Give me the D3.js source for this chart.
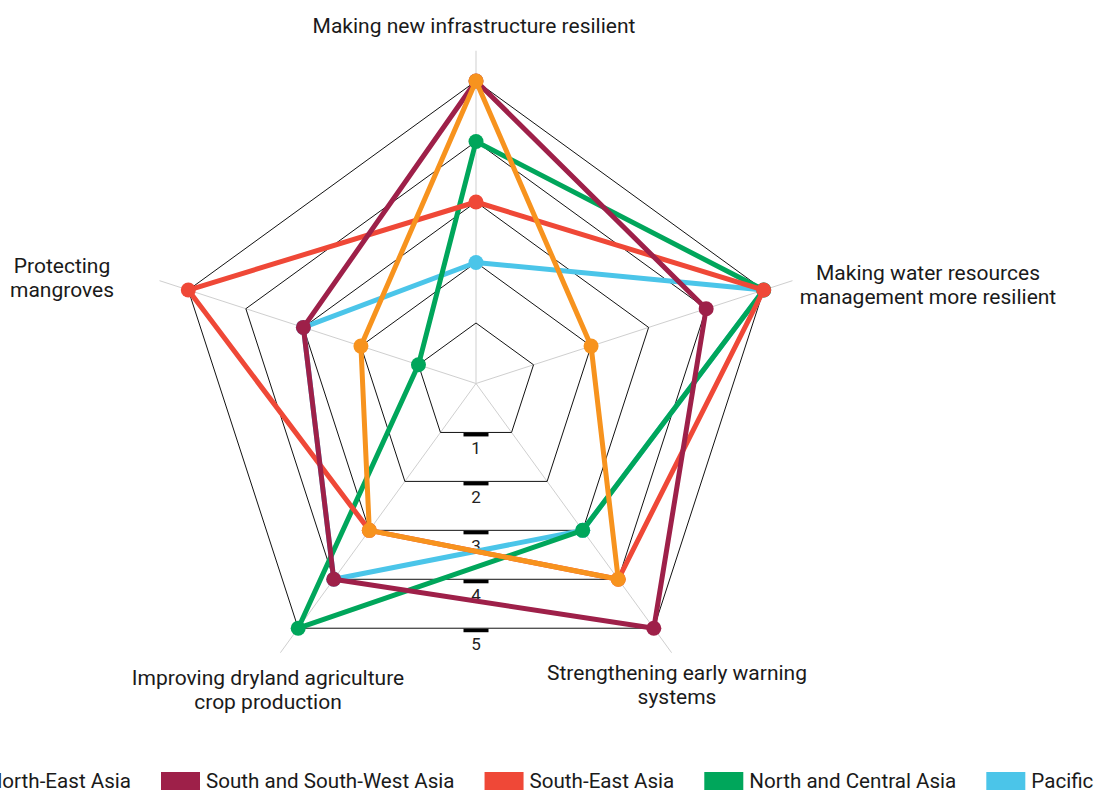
<!DOCTYPE html>
<html><head><meta charset="utf-8">
<script src="https://cdn.jsdelivr.net/npm/d3@7"></script>
<style>
html,body{margin:0;padding:0;background:#fff;overflow:hidden}
svg{display:block;font-family:Roboto, "Noto Sans", sans-serif}
</style></head>
<body>
<svg id="chart" width="1096" height="790"></svg>
<script>
const categories = [
  ["Making new infrastructure resilient"],
  ["Making water resources", "management more resilient"],
  ["Strengthening early warning", "systems"],
  ["Improving dryland agriculture", "crop production"],
  ["Protecting", "mangroves"]
];
const seriesNames = ["North-East Asia", "South and South-West Asia", "South-East Asia", "North and Central Asia", "Pacific"];
const seriesColors = ["#F7931E", "#9E2049", "#EF4837", "#00A65B", "#4BC5E9"];
const northEastAsia = [5, 2, 4, 3, 2];
const southSouthWestAsia = [5, 4, 5, 4, 3];
const southEastAsia = [3, 5, 4, 3, 5];
const northCentralAsia = [4, 5, 3, 5, 1];
const pacific = [2, 5, 3, 4, 3];
const seriesValues = [northEastAsia, southSouthWestAsia, southEastAsia, northCentralAsia, pacific];
const tickValues = [1, 2, 3, 4, 5];

const W = 1096, H = 790;
const cx = 476, cy = 383.5, R = 302.5;
const svg = d3.select("#chart");
const rScale = d3.scaleLinear().domain([0, 5]).range([0, R]);
const n = categories.length;
const angle = i => -Math.PI / 2 + i * 2 * Math.PI / n;
const pt = (i, v) => [cx + rScale(v) * Math.cos(angle(i)), cy + rScale(v) * Math.sin(angle(i))];

const grid = svg.append("g");
// spokes
categories.forEach((c, i) => {
  const [x, y] = pt(i, 5.5);
  grid.append("line").attr("x1", cx).attr("y1", cy).attr("x2", x).attr("y2", y)
    .attr("stroke", "#cfcfcf").attr("stroke-width", 1);
});
// rings
tickValues.forEach(t => {
  grid.append("polygon")
    .attr("points", categories.map((c, i) => pt(i, t).join(",")).join(" "))
    .attr("fill", "none").attr("stroke", "#111").attr("stroke-width", 1);
});
// tick marks and labels along the bottom
const cos36 = Math.cos(Math.PI / 5);
tickValues.forEach(t => {
  const y = cy + rScale(t) * cos36;
  grid.append("rect").attr("x", cx - 12.5).attr("y", y + 0.5).attr("width", 25).attr("height", 3.5).attr("fill", "#000");
  grid.append("text").attr("x", cx).attr("y", y + 21.5).attr("text-anchor", "middle")
    .attr("font-size", 17).attr("fill", "#222").text(t);
});

// category labels
const labelPos = [
  {dx: -2, dy: -351},
  {dx: 452, dy: -104},
  {dx: 201, dy: 296},
  {dx: -208, dy: 301},
  {dx: -414, dy: -111}
];
categories.forEach((lines, i) => {
  const t = svg.append("text").attr("text-anchor", "middle").attr("font-size", 21).attr("fill", "#1a1a1a");
  lines.forEach((l, k) => {
    t.append("tspan").attr("x", cx + labelPos[i].dx).attr("y", cy + labelPos[i].dy + k * 24).text(l);
  });
});

// series, drawn in reverse so the first one is on top
const line = d3.line().curve(d3.curveLinearClosed);
for (let s = seriesValues.length - 1; s >= 0; s--) {
  const pts = seriesValues[s].map((v, i) => pt(i, v));
  const g = svg.append("g");
  g.append("path").attr("d", line(pts)).attr("fill", "none").attr("stroke", seriesColors[s])
    .attr("stroke-width", 5).attr("stroke-linejoin", "round");
  g.selectAll("circle").data(pts).join("circle").attr("cx", d => d[0]).attr("cy", d => d[1])
    .attr("r", 7.5).attr("fill", seriesColors[s]);
}

// legend
const lg = svg.append("g");
const fs = 20.6, sw = 39, sh = 19, gapT = 6, gapI = 30;
const items = seriesNames.map((name, i) => {
  const g = lg.append("g");
  g.append("rect").attr("width", sw).attr("height", sh).attr("y", 772).attr("fill", seriesColors[i]);
  const tx = g.append("text").attr("x", sw + gapT).attr("y", 788).attr("font-size", fs).attr("fill", "#1a1a1a").text(name);
  return {g, w: sw + gapT + tx.node().getComputedTextLength()};
});
let x0 = 161 - items[0].w - gapI;
items.forEach(it => { it.g.attr("transform", `translate(${x0},0)`); x0 += it.w + gapI; });
</script>
</body></html>
